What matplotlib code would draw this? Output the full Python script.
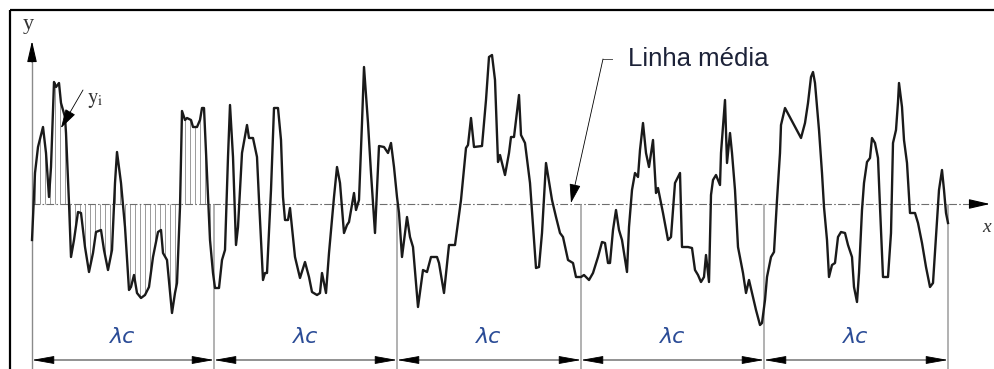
import numpy as np
import matplotlib
matplotlib.use("Agg")
from matplotlib import pyplot as plt

# roughness profile (x along the sample, height above mean line)
profile_x = [32, 35, 38, 43, 46, 49, 51, 54, 56, 59, 61, 65, 66, 69, 71, 74, 78, 81, 85, 89,
             93, 96, 101, 104, 108, 112, 115, 117, 121, 125, 129, 131, 134, 137, 141, 145, 149, 153, 158, 161,
             163, 167, 172, 175, 177, 180, 182, 185, 187, 191, 193, 197, 200, 202, 204, 207, 210, 213, 215, 219,
             222, 225, 228, 230, 233, 236, 238, 242, 247, 249, 253, 257, 259, 263, 265, 267, 271, 274, 278, 281,
             283, 285, 288, 290,
             295, 300, 305, 309, 312, 317, 320, 322, 326, 329, 334, 337, 340, 344, 347, 349, 354, 356, 359, 362,
             364, 368, 371, 375, 377, 379, 384, 388, 391, 394, 397, 399, 402, 407, 410, 413, 418, 423, 427,
             431, 437, 439, 444, 449, 455, 461, 466, 468, 471, 474, 482, 486, 489, 492, 495, 498, 500, 505, 509,
             511, 514, 519, 521, 525, 530, 536, 539, 542, 546, 552,
             556, 560, 563, 568, 573, 576, 581, 584, 589, 593, 598, 602, 605, 608, 610, 613, 616, 619, 622, 627,
             629, 632, 635, 638, 640, 643, 646, 649, 653, 656, 658, 663, 668, 671, 675, 680, 682, 688,
             692, 695, 698, 701, 704, 706, 709, 711, 713, 716, 720, 721, 725, 727, 730, 732, 735, 738, 743, 746,
             749, 753, 756, 760, 762, 765, 767, 771, 774, 777, 780, 781, 785, 801, 805, 808, 811, 813, 815, 819,
             822, 824, 827, 829, 832, 835, 838, 841, 845, 848, 852, 854, 857, 859, 862, 864, 867, 870, 872, 875,
             878, 880, 883, 888, 891, 893, 896, 898, 899, 902, 904, 907, 910, 915, 918, 922, 926, 930, 933, 936,
             939, 942, 944, 946, 948]
profile_h = [-36, 31, 57, 77, 51, 7, 37, 122, 117, 121, 101, 87, 71, 1, -53, -36, -8, -9, -43, -68,
             -49, -28, -26, -46, -66, -46, 21, 52, 21, -23, -86, -83, -71, -89, -94, -91, -83, -53, -28, -26,
             -49, -56, -109, -89, -79, -3, 93, 84, 86, 84, 77, 77, 84, 96, 96, 31, -36, -69, -84, -84,
             -56, -46, 47, 99, 47, -41, -23, 51, 79, 66, 66, 47, 4, -76, -69, -69, 14, 96, 96, 64,
             7, -16, -16, -4,
             -53, -74, -58, -73, -88, -91, -89, -69, -89, -49, 7, 37, 21, -29, -21, -18, 11, -6, 4, 81,
             137, 81, 31, -29, 14, 58, 57, 51, 61, 37, 7, -9, -53, -13, -33, -43, -103, -66, -68,
             -53, -53, -59, -89, -41, -41, 4, 56, 59, 86, 57, 58, 104, 147, 149, 124, 42, 49, 29, 51,
             67, 67, 109, 69, 61, 21, -64, -63, -29, 41, 4,
             -13, -29, -33, -56, -59, -73, -73, -71, -76, -69, -53, -38, -39, -59, -59, -26, -6, -26, -36, -68,
             -23, 14, 31, 27, 54, 81, 51, 37, 64, 11, 16, -9, -36, -33, 21, 31, -43, -43,
             -44, -66, -71, -78, -73, -51, -78, 9, 24, 29, 19, 51, 104, 41, 71, 51, 14, -43, -69, -89,
             -76, -93, -106, -121, -119, -96, -73, -53, -48, 4, 51, 79, 96, 66, 81, 101, 127, 132, 121, 74,
             31, -3, -36, -73, -61, -59, -33, -28, -29, -41, -53, -83, -98, -69, -6, 21, 42, 46, 66, 61,
             46, -3, -73, -73, -29, 61, 74, 102, 121, 97, 64, 41, -9, -9, -19, -39, -63, -83, -79, -33,
             14, 34, 14, -9, -19]

cutoffs = [32, 214, 397, 581, 764, 948]
cutoff_label = "λc"

fig = plt.figure(figsize=(9.94, 3.69), dpi=100)
ax = fig.add_axes([0, 0, 1, 1])
ax.set_xlim(0, 994)
ax.set_ylim(-165, 204)
ax.axis("off")
plt.rcParams["mathtext.fontset"] = "stix"

# frame (top and left edge only, the rest is cropped in the source)
ax.plot([10, 994], [194, 194], color="black", lw=1.6, solid_capstyle="butt")
ax.plot([10, 10], [194, -165], color="black", lw=1.6, solid_capstyle="butt")

# hatching of the ordinates y_i over the first sampling length
hx = np.arange(35, 212, 5)
hy = np.interp(hx, profile_x, profile_h)
ax.vlines(hx, 0, hy, color="#9a9a9a", lw=0.7)

# mean line and x axis
ax.plot([32, 975], [0, 0], color="#6e6e6e", lw=0.8, dashes=[7, 2, 1.5, 2])
ax.annotate("", xy=(990, 0), xytext=(970, 0),
            arrowprops=dict(arrowstyle="-|>,head_length=1.3,head_width=0.3", color="black",
                            lw=0.8, mutation_scale=10, shrinkA=0, shrinkB=0))
ax.text(987, -24, "x", fontsize=14, family="Liberation Serif", style="italic",
        ha="center", va="center", color="#333333")

# y axis
ax.plot([32, 32], [-165, 145], color="#8a8a8a", lw=1.0)
ax.annotate("", xy=(32, 163), xytext=(32, 142),
            arrowprops=dict(arrowstyle="-|>,head_length=1.3,head_width=0.3", color="black",
                            lw=0.8, mutation_scale=10, shrinkA=0, shrinkB=0))
ax.text(28, 180, "y", fontsize=16, family="Liberation Serif", ha="center", va="center",
        color="#333333")

# cutoff boundaries
for c in cutoffs[1:]:
    ax.plot([c, c], [-1, -165], color="#9c9c9c", lw=1.1)

# profile
ax.plot(profile_x, profile_h, color="#1a1a1a", lw=1.7, solid_joinstyle="round")

# y_i annotation
ax.annotate("", xy=(61, 76), xytext=(83, 114),
            arrowprops=dict(arrowstyle="-|>,head_length=1.2,head_width=0.35", color="black",
                            lw=0.6, mutation_scale=10, shrinkA=0, shrinkB=0))
ax.text(87, 104, r"$\mathrm{y}_{\mathrm{i}}$", fontsize=15, ha="left", va="center", color="#333333")

# mean line annotation
ax.plot([612, 603], [145, 145], color="#555555", lw=0.7)
ax.annotate("", xy=(571, 1), xytext=(603, 145),
            arrowprops=dict(arrowstyle="-|>,head_length=1.2,head_width=0.35", color="black",
                            lw=0.6, mutation_scale=10, shrinkA=0, shrinkB=0))
ax.text(628, 145, "Linha média", fontsize=18.5, family="Liberation Sans", ha="left",
        va="center", color="#1c2238")

# sampling length dimensions
for a, b in zip(cutoffs[:-1], cutoffs[1:]):
    ax.annotate("", xy=(b, -156), xytext=(a, -156),
                arrowprops=dict(arrowstyle="<|-|>,head_length=1.4,head_width=0.25", color="black",
                                lw=0.6, mutation_scale=10, shrinkA=0, shrinkB=0))
    ax.text((a + b) / 2, -133, cutoff_label, fontsize=16, family="DejaVu Sans", style="italic",
            ha="center", va="center", color="#2a4b96")

fig.savefig("out.png", dpi=100)
